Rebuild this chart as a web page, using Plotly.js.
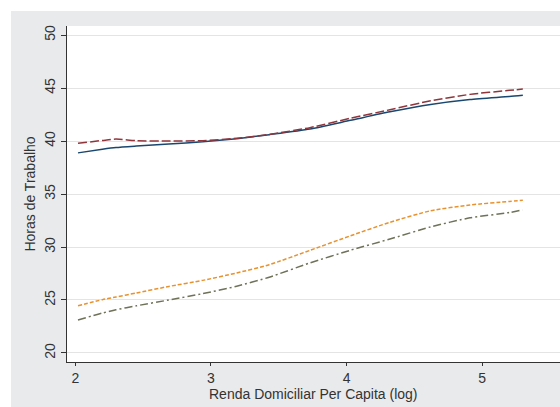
<!DOCTYPE html>
<html>
<head>
<meta charset="utf-8">
<script src="https://cdn.plot.ly/plotly-3.0.1.min.js"></script>
<style>
  html, body { margin: 0; padding: 0; background: #ffffff; }
  body { width: 560px; height: 407px; position: relative; overflow: hidden; }
  #chart { position: absolute; left: 11px; top: 11px; width: 549px; height: 396px; }
</style>
</head>
<body>
<div id="chart"></div>
<script>
// Log of per-capita household income (x) and fitted weekly working hours per group
const rendaLog = [2.02, 2.20, 2.30, 2.45, 2.69, 2.94, 3.19, 3.43, 3.73, 4.03, 4.32, 4.62, 4.91, 5.20, 5.30];
const horasSerie1 = [38.88, 39.22, 39.38, 39.52, 39.72, 39.92, 40.22, 40.60, 41.13, 41.95, 42.75, 43.45, 43.92, 44.20, 44.32];
const horasSerie2 = [39.78, 40.05, 40.18, 40.03, 40.00, 40.03, 40.25, 40.62, 41.26, 42.15, 42.95, 43.80, 44.40, 44.78, 44.90];
const horasSerie3 = [24.46, 25.03, 25.28, 25.66, 26.28, 26.85, 27.55, 28.33, 29.68, 31.06, 32.33, 33.42, 33.96, 34.30, 34.40];
const horasSerie4 = [23.12, 23.77, 24.08, 24.45, 25.00, 25.60, 26.30, 27.15, 28.50, 29.70, 30.75, 31.90, 32.75, 33.25, 33.50];

const xTicks = [2, 3, 4, 5];
const yTicks = [20, 25, 30, 35, 40, 45, 50];

const font = "'Liberation Sans', Arial, Helvetica, sans-serif";

function serie(y, color, dash) {
  return {
    x: rendaLog, y: y, type: 'scatter', mode: 'lines',
    line: { color: color, width: 1.5, dash: dash, shape: 'spline', smoothing: 0.6 },
    hoverinfo: 'skip', showlegend: false
  };
}

const data = [
  serie(horasSerie1, '#1a476f', 'solid'),
  serie(horasSerie2, '#90353b', '9px,3px'),
  serie(horasSerie3, '#e8922f', '4px,2px'),
  serie(horasSerie4, '#6f7158', '8px,3px,2px,3px')
];

const layout = {
  width: 549, height: 396,
  paper_bgcolor: '#e9eaec',
  plot_bgcolor: '#ffffff',
  margin: { l: 56, r: 0, t: 15, b: 45 },
  font: { family: font, size: 14, color: '#333333' },
  xaxis: {
    range: [1.939, 5.574],
    tickvals: xTicks, ticktext: xTicks.map(String),
    ticks: 'outside', ticklen: 3, tickcolor: '#333333', tickwidth: 1,
    showline: true, linecolor: '#333333', linewidth: 1,
    showgrid: false, zeroline: false,
    tickfont: { size: 14, color: '#333333' },
    automargin: false
  },
  yaxis: {
    range: [19.15, 50.85],
    tickvals: yTicks, ticktext: yTicks.map(String),
    tickangle: -90,
    ticks: 'outside', ticklen: 5, tickcolor: '#333333', tickwidth: 1,
    showline: true, linecolor: '#333333', linewidth: 1,
    showgrid: true, gridcolor: '#e4e4e4', gridwidth: 1,
    zeroline: false,
    tickfont: { size: 14, color: '#333333' },
    title: { text: 'Horas de Trabalho', standoff: 3, font: { size: 14, color: '#333333' } },
    automargin: false
  },
  annotations: [{
    text: 'Renda Domiciliar Per Capita (log)',
    xref: 'paper', yref: 'paper', x: 0.5, y: -0.094,
    xanchor: 'center', yanchor: 'middle', showarrow: false,
    font: { size: 14, color: '#333333' }
  }]
};

Plotly.newPlot('chart', data, layout, { displayModeBar: false, staticPlot: true });
</script>
</body>
</html>
